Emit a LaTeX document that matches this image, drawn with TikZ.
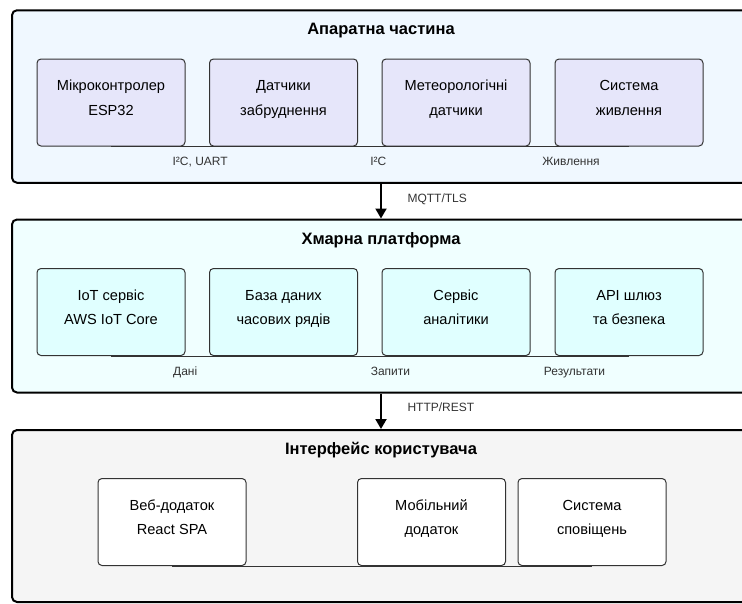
\documentclass[tikz,border=0pt]{standalone}
\usepackage{fontspec}
\setmainfont{Liberation Sans}
\usetikzlibrary{arrows.meta}
\definecolor{hwbg}{HTML}{F0F8FF}
\definecolor{hwin}{HTML}{E6E6FA}
\definecolor{clbg}{HTML}{F0FFFF}
\definecolor{clin}{HTML}{E0FFFF}
\definecolor{uibg}{HTML}{F5F5F5}
\definecolor{uiin}{HTML}{FFFFFF}
\definecolor{edgegray}{HTML}{333333}
\tikzset{
  layer/.style={draw=black, line width=2pt, rounded corners=5pt, minimum width=738pt, inner sep=0pt},
  inbox/.style={draw=edgegray, line width=1pt, rounded corners=4pt, minimum width=148pt, minimum height=87pt, inner sep=0pt},
  boxtext/.style={align=center, font=\fontsize{14.6}{24.5}\selectfont, text=black, inner sep=0pt},
  boxlbl/.style 2 args={label={[boxtext,yshift=4.5pt]center:\strut #1\\\strut #2}},
  titletext/.style={font=\bfseries\fontsize{16.5}{20}\selectfont, inner sep=0pt, anchor=base},
  elabel/.style={font=\fontsize{12}{14}\selectfont, text=edgegray, inner sep=0pt, anchor=base},
  link/.style={draw=edgegray, line width=0.9pt},
  flow/.style={draw=black, line width=2pt, -{Triangle[width=11pt,length=10pt]}},
}
\begin{document}
\begin{tikzpicture}[x=1pt,y=-1pt]
\useasboundingbox (0,0) rectangle (742,603);
% layers
\node[layer, fill=hwbg, minimum height=172.5pt] (hw) at (381,96.5) {};
\node[layer, fill=clbg, minimum height=173pt] (cl) at (381,306) {};
\node[layer, fill=uibg, minimum height=172pt] (ui) at (381,516) {};
% titles
\node[titletext] (thw) at (381,34.5) {Апаратна частина};
\node[titletext] (tcl) at (381,244.3) {Хмарна платформа};
\node[titletext] (tui) at (381,454.3) {Інтерфейс користувача};
% hardware boxes
\node[inbox, fill=hwin, boxlbl={Мікроконтролер}{ESP32}] (esp) at (111,102.5) {};
\node[inbox, fill=hwin, boxlbl={Датчики}{забруднення}] (pol) at (283.5,102.5) {};
\node[inbox, fill=hwin, boxlbl={Метеорологічні}{датчики}] (met) at (456,102.5) {};
\node[inbox, fill=hwin, boxlbl={Система}{живлення}] (pwr) at (629,102.5) {};
% cloud boxes
\node[inbox, fill=clin, boxlbl={IoT сервіс}{AWS IoT Core}] (iot) at (111,312) {};
\node[inbox, fill=clin, boxlbl={База даних}{часових рядів}] (db) at (283.5,312) {};
\node[inbox, fill=clin, boxlbl={Сервіс}{аналітики}] (ana) at (456,312) {};
\node[inbox, fill=clin, boxlbl={API шлюз}{та безпека}] (api) at (629,312) {};
% ui boxes
\node[inbox, fill=uiin, boxlbl={Веб-додаток}{React SPA}] (web) at (172,522) {};
\node[inbox, fill=uiin, boxlbl={Мобільний}{додаток}] (mob) at (431.5,522) {};
\node[inbox, fill=uiin, boxlbl={Система}{сповіщень}] (ntf) at (592,522) {};
% internal links
\draw[link] (esp.south) -- node[elabel, pos=0.517, yshift=-18.5pt] (l1) {I²C, UART} (pol.south);
\draw[link] (pol.south) -- node[elabel, pos=0.55, yshift=-18.5pt] (l2) {I²C} (met.south);
\draw[link] (met.south) -- node[elabel, pos=0.665, yshift=-18.5pt] (l3) {Живлення} (pwr.south);
\draw[link] (iot.south) -- node[elabel, pos=0.43, yshift=-19.5pt] (l4) {Дані} (db.south);
\draw[link] (db.south) -- node[elabel, pos=0.62, yshift=-19.5pt] (l5) {Запити} (ana.south);
\draw[link] (ana.south) -- node[elabel, pos=0.685, yshift=-19.5pt] (l6) {Результати} (api.south);
\draw[link] (web.south) -- (mob.south);
\draw[link] (mob.south) -- (ntf.south);
% flows between layers
\draw[flow] (hw.south) -- node[elabel, pos=0, anchor=base west, xshift=25.5pt, yshift=-18.7pt] (f1) {MQTT/TLS} (cl.north);
\draw[flow] (cl.south) -- node[elabel, pos=0, anchor=base west, xshift=25.5pt, yshift=-17.5pt] (f2) {HTTP/REST} (ui.north);
\end{tikzpicture}
\end{document}
